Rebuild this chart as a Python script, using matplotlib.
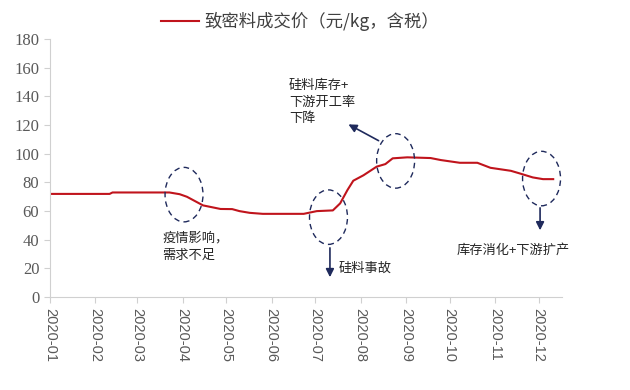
import matplotlib
matplotlib.use('Agg')
import matplotlib.pyplot as plt
import matplotlib.dates as mdates
from matplotlib.patches import Ellipse
import pandas as pd

plt.rcParams['font.family'] = ['Noto Sans CJK SC', 'DejaVu Sans']

# 致密料成交价 data
dates = ['2020-01-01', '2020-02-11', '2020-02-13', '2020-03-23', '2020-03-30',
         '2020-04-04', '2020-04-15', '2020-04-27', '2020-05-05', '2020-05-10',
         '2020-05-17', '2020-05-26', '2020-06-23', '2020-07-02', '2020-07-13',
         '2020-07-18', '2020-07-23', '2020-07-27', '2020-08-03', '2020-08-12',
         '2020-08-18', '2020-08-23', '2020-09-02', '2020-09-18', '2020-09-25',
         '2020-10-08', '2020-10-20', '2020-10-29', '2020-11-12', '2020-11-18',
         '2020-11-27', '2020-12-04', '2020-12-11']
prices = [72, 72, 73, 73, 71.8,
          70, 64, 61.5, 61.4, 60,
          58.8, 58.1, 58.1, 60, 60.5,
          65.4, 74.7, 81.2, 85, 91,
          92.8, 96.8, 97.5, 97, 95.6,
          93.7, 93.7, 90.2, 88.1, 86.3,
          83.5, 82.3, 82.3]
month_ticks = pd.date_range('2020-01-01', '2020-12-01', freq='MS')
legend_label = '致密料成交价（元/kg，含税）'

# annotation ellipses: centre date, centre value
circle_dates = ['2020-04-02', '2020-07-10', '2020-08-25', '2020-12-03']
circle_values = [71.5, 55.8, 95, 82.7]

navy = '#1F2A5C'
red = '#C0141C'

fig = plt.figure(figsize=(6.3, 3.9), dpi=100)
ax = fig.add_axes([0.079, 0.238, 0.813, 0.662])

x = pd.to_datetime(dates)
ax.plot(x, prices, color=red, lw=1.5, label=legend_label)

ax.set_ylim(0, 180)
ax.set_yticks(range(0, 181, 20))
ax.set_xlim(pd.Timestamp('2020-01-01'), pd.Timestamp('2020-12-17'))
ax.set_xticks(month_ticks)
ax.xaxis.set_major_formatter(mdates.DateFormatter('%Y-%m'))

for s in ['top', 'right']:
    ax.spines[s].set_visible(False)
for s in ['left', 'bottom']:
    ax.spines[s].set_color('#D0D0D0')
ax.tick_params(axis='both', colors='#D0D0D0', length=4, width=0.8)
for lab in ax.get_yticklabels():
    lab.set_family('Liberation Serif')
    lab.set_fontsize(12)
    lab.set_color('#595959')
for lab in ax.get_xticklabels():
    lab.set_family('Liberation Sans')
    lab.set_fontsize(10.5)
    lab.set_color('#595959')
    lab.set_rotation(-90)
    lab.set_va('top')
    lab.set_ha('center')

# dashed ellipses
for d, v in zip(circle_dates, circle_values):
    e = Ellipse((mdates.date2num(pd.Timestamp(d)), v), width=26, height=38,
                fill=False, ls=(0, (4, 3)), lw=1, edgecolor=navy, zorder=3)
    ax.add_patch(e)

# arrows
arr = dict(arrowstyle='-|>', color=navy, lw=1.2, mutation_scale=12)
ax.annotate('', xy=(pd.Timestamp('2020-07-11'), 12),
            xytext=(pd.Timestamp('2020-07-11'), 36.3), arrowprops=arr)
ax.annotate('', xy=(pd.Timestamp('2020-07-22'), 121.4),
            xytext=(pd.Timestamp('2020-08-15'), 108.2), arrowprops=arr)
ax.annotate('', xy=(pd.Timestamp('2020-12-02'), 44.7),
            xytext=(pd.Timestamp('2020-12-02'), 64.2), arrowprops=arr)

txt = dict(fontsize=9.5, color='#262626', linespacing=1.35)
ax.text(pd.Timestamp('2020-03-18'), 45.5, '疫情影响，\n需求不足', va='top', ha='left', **txt)
ax.text(pd.Timestamp('2020-07-17'), 20.2, '硅料事故', va='center', ha='left', **txt)
ax.text(pd.Timestamp('2020-06-13'), 152, '硅料库存+\n下游开工率\n下降', va='top', ha='left', **txt)
ax.text(pd.Timestamp('2020-10-06'), 32.8, '库存消化+下游扩产', va='center', ha='left', **txt)

fig.legend(loc='center', bbox_to_anchor=(0.476, 0.944), frameon=False,
           fontsize=12.5, handlelength=2.2, handletextpad=0.3,
           labelcolor='#404040')

fig.savefig('out.png', dpi=100)
